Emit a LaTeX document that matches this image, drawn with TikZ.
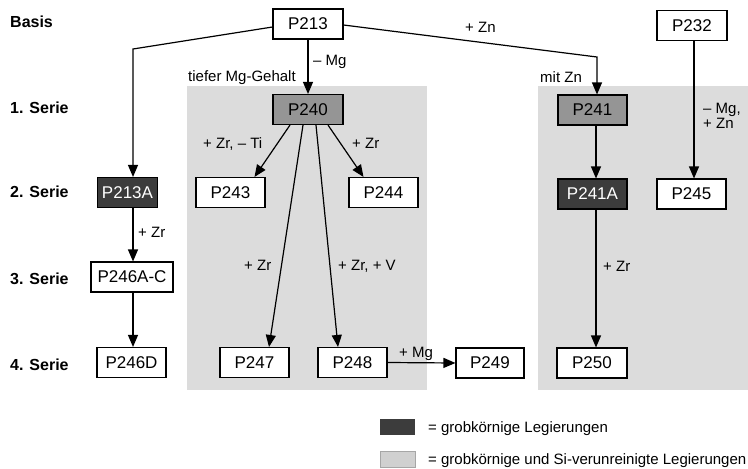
\documentclass[tikz,border=0pt]{standalone}
\usepackage{fontspec}
\setmainfont{Liberation Sans}
\usetikzlibrary{arrows.meta}
\definecolor{bg}{HTML}{DCDCDC}
\definecolor{mid}{HTML}{959595}
\definecolor{dark}{HTML}{3C3C3C}
\definecolor{legbg}{HTML}{D0D0D0}
\begin{document}
\begin{tikzpicture}[x=1pt,y=-1pt,
 box/.style={draw=black,line width=1.1pt,minimum height=30pt,minimum width=69pt,inner sep=0pt,font=\fontsize{17}{19}\selectfont,fill=white},
 midbox/.style={box,fill=mid},
 darkbox/.style={box,fill=dark,text=white},
 lbl/.style={font=\fontsize{15}{17}\selectfont,inner sep=0pt,anchor=base west},
 serie/.style={font=\bfseries\fontsize{16}{18}\selectfont,inner sep=0pt,anchor=base west},
 arr/.style={line width=1.2pt,-{Triangle[length=12pt,width=10pt]}},
 legbox/.style={minimum width=35pt,minimum height=16pt,inner sep=0pt}]
\useasboundingbox (0,0) rectangle (748,469);
\fill[bg] (187,86) rectangle (427,390);
\fill[bg] (538,86) rectangle (748,390);
% series labels
\node[serie] (basis) at (10,27) {Basis};
\node[serie] (s1) at (10,113) {1. Serie};
\node[serie] (s2) at (10,197) {2. Serie};
\node[serie] (s3) at (10,284) {3. Serie};
\node[serie] (s4) at (10,370) {4. Serie};
% boxes
\node[box,minimum width=70pt] (P213) at (308,24) {P213};
\node[box,minimum width=70pt] (P232) at (692,25.5) {P232};
\node[midbox,minimum width=70pt] (P240) at (308,109.5) {P240};
\node[midbox] (P241) at (592.5,110) {P241};
\node[darkbox,minimum width=60pt] (P213A) at (127.5,192.5) {P213A};
\node[box] (P243) at (230.5,192.5) {P243};
\node[box] (P244) at (383.5,192.5) {P244};
\node[darkbox] (P241A) at (592.5,194) {P241A};
\node[box] (P245) at (691.5,194) {P245};
\node[box,minimum width=82pt] (P246AC) at (132,277) {P246A-C};
\node[box] (P246D) at (131.5,362.5) {P246D};
\node[box] (P247) at (254.5,362.5) {P247};
\node[box] (P248) at (352.5,362.5) {P248};
\node[box,minimum width=68pt] (P249) at (490,363) {P249};
\node[box,minimum width=70pt] (P250) at (592,363) {P250};
% bend points
\coordinate (b1) at (133,49);
\coordinate (b2) at (597,57);
% connectors
\draw[arr] ([yshift=-3pt]P213.west) -- (b1) -- (b1 |- P213A.north);
\draw[arr] (P213.south) -- (P240.north);
\draw[arr] ([yshift=-1pt]P213.east) -- (b2) -- (b2 |- P241.north);
\draw[arr] ([xshift=2pt]P232.south) -- ([xshift=2.5pt]P245.north);
\draw[arr] ([xshift=-18pt]P240.south) -- ([xshift=24pt]P243.north);
\draw[arr] ([xshift=20pt]P240.south) -- ([xshift=-20pt]P244.north);
\draw[arr] ([xshift=-5pt]P240.south) -- ([xshift=14.5pt]P247.north);
\draw[arr] ([xshift=8pt]P240.south) -- ([xshift=-14.5pt]P248.north);
\draw[arr] ([xshift=3.5pt]P241.south) -- ([xshift=3.5pt]P241A.north);
\draw[arr] ([xshift=3.5pt]P241A.south) -- ([xshift=4pt]P250.north);
\draw[arr] (b1 |- P213A.south) -- (b1 |- P246AC.north);
\draw[arr] (b1 |- P246AC.south) -- (b1 |- P246D.north);
\draw[arr] (P248.east) -- (P249.west);
% labels
\node[lbl] (l1) at (188,81) {tiefer Mg-Gehalt};
\node[lbl] (l2) at (313,65) {– Mg};
\node[lbl] (l3) at (465,32) {+ Zn};
\node[lbl] (l4) at (540,82) {mit Zn};
\node[lbl] (l5) at (203,148) {+ Zr, – Ti};
\node[lbl] (l6) at (352,148) {+ Zr};
\node[lbl] (l7) at (703,113) {– Mg,};
\node[lbl] (l8) at (703,128) {+ Zn};
\node[lbl] (l9) at (138,237) {+ Zr};
\node[lbl] (l10) at (244,270) {+ Zr};
\node[lbl] (l11) at (338,270) {+ Zr, + V};
\node[lbl] (l12) at (399,357) {+ Mg};
\node[lbl] (l13) at (603,271) {+ Zr};
% legend
\node[legbox,fill=dark] (leg1) at (397.5,427) {};
\node[legbox,fill=legbg,draw=gray!70,line width=0.4pt] (leg2) at (397.5,459) {};
\node[lbl] (t1) at (428,432.5) {= grobkörnige Legierungen};
\node[lbl] (t2) at (428,464.5) {= grobkörnige und Si-verunreinigte Legierungen};
\end{tikzpicture}
\end{document}
